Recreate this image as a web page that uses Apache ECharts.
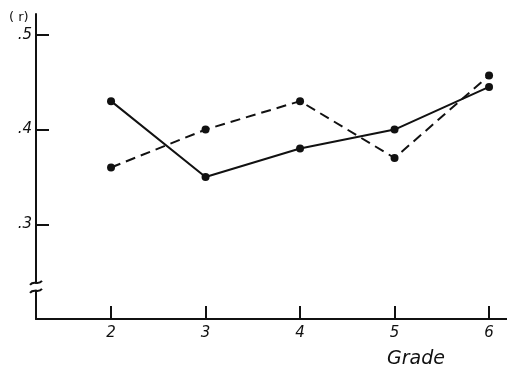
<!DOCTYPE html>
<html><head><meta charset="utf-8">
<script src="https://cdn.jsdelivr.net/npm/echarts@6/dist/echarts.min.js"></script>
<style>html,body{margin:0;padding:0;background:#fff}#c{width:507px;height:370px}</style>
</head><body><div id="c"></div>
<script>
const grades = [2, 3, 4, 5, 6];
const solidValues = [0.43, 0.35, 0.38, 0.40, 0.445];
const dashedValues = [0.36, 0.40, 0.43, 0.37, 0.457];
const yTicks = [0.3, 0.4, 0.5];
const yTickLabels = ['.3', '.4', '.5'];
const xTicks = [2, 3, 4, 5, 6];

const chart = echarts.init(document.getElementById('c'), null, {renderer: 'canvas'});
const font = 'DejaVu Sans';
const pair = v => grades.map((g, i) => [g, v[i]]);
chart.setOption({
  animation: false,
  backgroundColor: '#fff',
  grid: {left: 36, right: 0, top: 14, bottom: 51},
  title: [
    {text: 'Grade', left: 382, top: 345, textStyle: {fontFamily: font, fontStyle: 'italic', fontWeight: 'normal', fontSize: 19, color: '#111'}},
    {text: '( r)', left: 4, top: 6, textStyle: {fontFamily: font, fontWeight: 'normal', fontSize: 13, color: '#111'}}
  ],
  xAxis: {
    type: 'value', min: 1.206, max: 6.19,
    splitLine: {show: false},
    axisLine: {lineStyle: {color: '#111', width: 2}},
    axisTick: {show: true, inside: true, length: 13, lineStyle: {color: '#111', width: 2}, customValues: xTicks},
    axisLabel: {customValues: xTicks, margin: 7, fontFamily: font, fontStyle: 'italic', fontSize: 15, color: '#111'}
  },
  yAxis: {
    type: 'value', min: 0.2, max: 0.522,
    splitLine: {show: false},
    axisLine: {show: true, lineStyle: {color: '#111', width: 2}},
    axisTick: {show: true, inside: true, length: 13, lineStyle: {color: '#111', width: 2}, customValues: yTicks},
    axisLabel: {customValues: yTicks, margin: 4, fontFamily: font, fontStyle: 'italic', fontSize: 15, color: '#111',
      formatter: v => { const i = yTicks.findIndex(t => Math.abs(t - v) < 1e-6); return i >= 0 ? yTickLabels[i] : ''; }}
  },
  series: [
    {type: 'line', data: pair(solidValues), symbol: 'circle', symbolSize: 8,
     lineStyle: {color: '#111', width: 2}, itemStyle: {color: '#111'}},
    {type: 'line', data: pair(dashedValues), symbol: 'circle', symbolSize: 8,
     lineStyle: {color: '#111', width: 2, type: [10, 6]}, itemStyle: {color: '#111'}}
  ]
});
// axis break marker
const p = chart.convertToPixel({gridIndex: 0}, [1.206, 0.234]);
const x = p[0], y = p[1];
const tilde = (yy) => ({type: 'bezierCurve', shape: {x1: x - 6, y1: yy + 2, cpx1: x - 2, cpy1: yy - 3, cpx2: x + 2, cpy2: yy + 3, x2: x + 6, y2: yy - 2},
  style: {stroke: '#111', lineWidth: 2, fill: null}, z: 101});
chart.setOption({graphic: [
  {type: 'rect', shape: {x: x - 3, y: y - 3, width: 6, height: 6}, style: {fill: '#fff'}, z: 100},
  tilde(y - 4), tilde(y + 4)
]});
</script></body></html>
